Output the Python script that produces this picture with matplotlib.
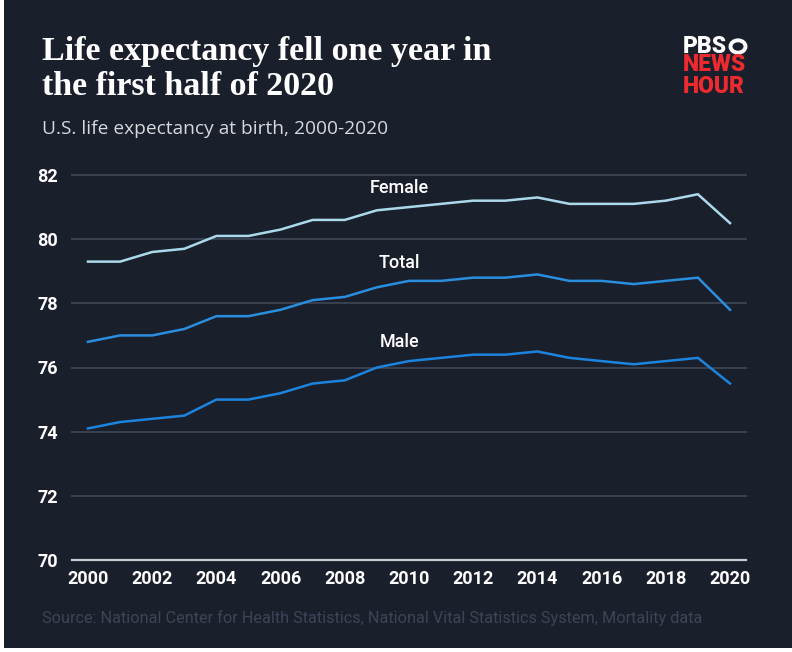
import matplotlib
matplotlib.use("Agg")
import matplotlib.pyplot as plt
from matplotlib.patches import Rectangle, Circle

years = list(range(2000, 2021))
female = [79.3, 79.3, 79.6, 79.7, 80.1, 80.1, 80.3, 80.6, 80.6, 80.9, 81.0,
          81.1, 81.2, 81.2, 81.3, 81.1, 81.1, 81.1, 81.2, 81.4, 80.5]
total = [76.8, 77.0, 77.0, 77.2, 77.6, 77.6, 77.8, 78.1, 78.2, 78.5, 78.7,
         78.7, 78.8, 78.8, 78.9, 78.7, 78.7, 78.6, 78.7, 78.8, 77.8]
male = [74.1, 74.3, 74.4, 74.5, 75.0, 75.0, 75.2, 75.5, 75.6, 76.0, 76.2,
        76.3, 76.4, 76.4, 76.5, 76.3, 76.2, 76.1, 76.2, 76.3, 75.5]
yticks = [70, 72, 74, 76, 78, 80, 82]
xticks = list(range(2000, 2021, 2))

BG = "#1a1f2c"
W, H = 792, 652
fig = plt.figure(figsize=(W / 100, H / 100), dpi=100)
fig.patch.set_facecolor("white")
fig.patches.append(Rectangle((4 / W, 4 / H), 1 - 4 / W, 1 - 4 / H,
                             transform=fig.transFigure, facecolor=BG,
                             edgecolor="none", zorder=-10))

ax = fig.add_axes([72 / W, 1 - 560 / H, (746 - 72) / W, (560 - 175) / H])
ax.set_facecolor(BG)
ax.set_xlim(2000 - 16 / 32.1, 2020 + 16 / 32.1)
ax.set_ylim(70, 82)
for s in ax.spines.values():
    s.set_visible(False)
for y in yticks:
    if y == 70:
        ax.axhline(y, color="#c8cacd", lw=1.6, zorder=1, clip_on=False)
    else:
        ax.axhline(y, color="#394050", lw=1.4, zorder=1, clip_on=False)

ax.plot(years, female, color="#abd9ea", lw=1.8, zorder=3, solid_joinstyle="miter")
ax.plot(years, total, color="#2a8ede", lw=1.8, zorder=3, solid_joinstyle="miter")
ax.plot(years, male, color="#1d84de", lw=1.8, zorder=3, solid_joinstyle="miter")

lab_kw = dict(color="white", fontsize=13, fontweight="medium",
              family="Roboto", ha="center", va="center")
ax.text(2009.7, 81.6, "Female", **lab_kw)
ax.text(2009.7, 79.25, "Total", **lab_kw)
ax.text(2009.7, 76.8, "Male", **lab_kw)

ax.set_yticks(yticks)
ax.set_xticks(xticks)
ax.tick_params(length=0, colors="white")
ax.tick_params(axis="y", pad=10)
ax.tick_params(axis="x", pad=7)
for t in ax.get_yticklabels() + ax.get_xticklabels():
    t.set_fontfamily("Roboto")
    t.set_fontsize(13)
    t.set_fontweight("bold")
    t.set_color("white")

fig.text(42 / W, 1 - 69 / H, "Life expectancy fell one year in\nthe first half of 2020",
         color="white", fontsize=24.5, fontweight="bold", family="Liberation Serif",
         va="center", ha="left", linespacing=1.15)
fig.text(42 / W, 1 - 129 / H, "U.S. life expectancy at birth, 2000-2020",
         color="#d6d8dc", fontsize=13.8, family="Open Sans", va="center", ha="left")
fig.text(42 / W, 1 - 618 / H,
         "Source: National Center for Health Statistics, National Vital Statistics System, Mortality data",
         color="#3c4556", fontsize=11.7, family="Roboto", va="center", ha="left")

# logo
logo_kw = dict(fontsize=16.5, fontweight="black", family="Roboto", ha="left")
fig.text(683 / W, 1 - 46.5 / H, "PBS", color="white", va="center", **logo_kw)
fig.patches.append(Circle((738 / W, 1 - 46.5 / H), 7.5 / W, transform=fig.transFigure,
                          facecolor="none", edgecolor="white", lw=2.8))
fig.text(683 / W, 1 - 75.5 / H, "NEWS\nHOUR", color="#ee2a2f", va="center",
         linespacing=0.9, **logo_kw)

fig.savefig("out.png", dpi=100, facecolor=fig.get_facecolor())
